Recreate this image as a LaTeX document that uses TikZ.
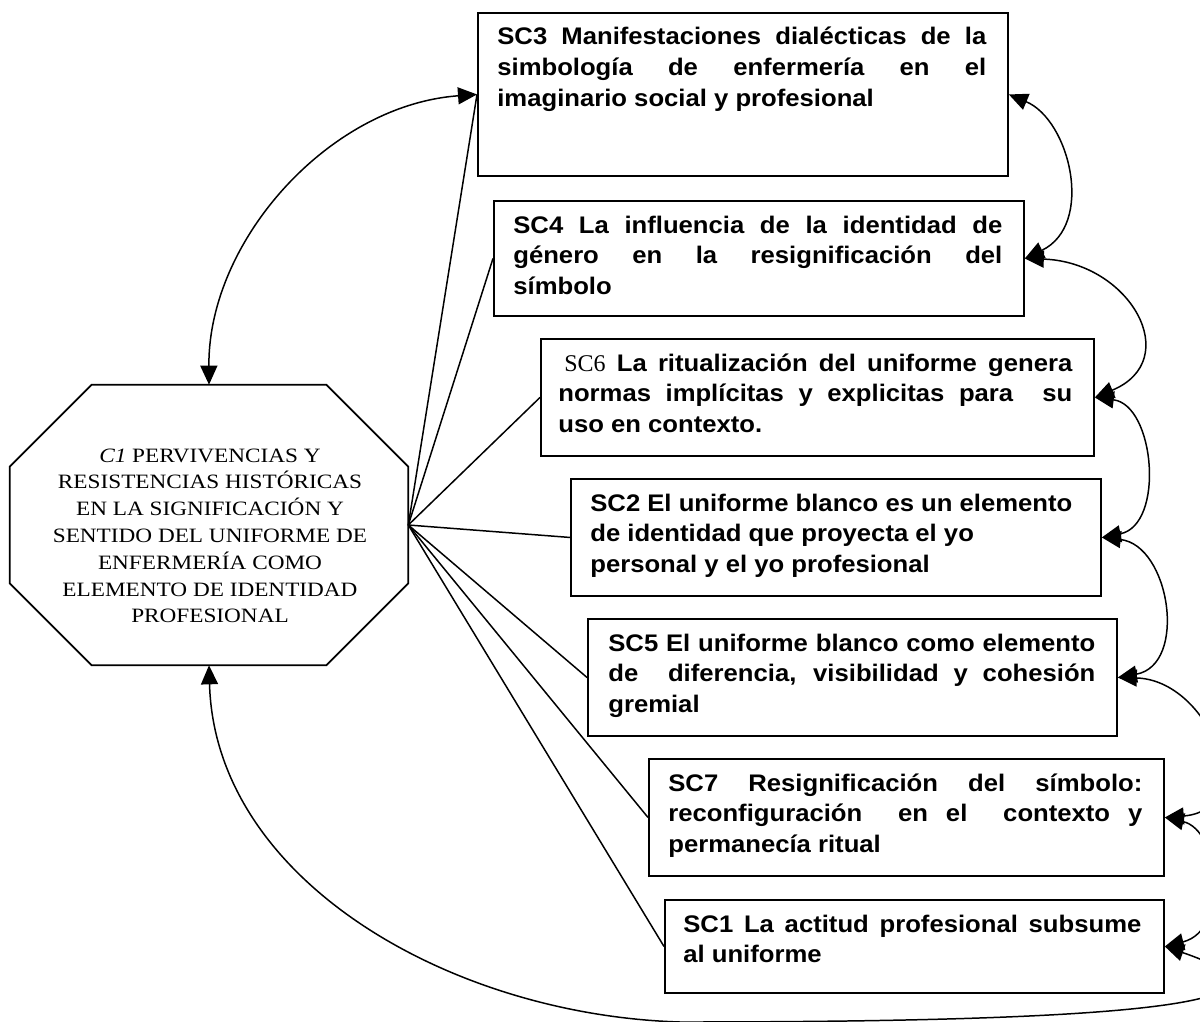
\documentclass[tikz,border=0pt]{standalone}
\usepackage{fontspec}
\setmainfont{Liberation Serif}[FakeStretch=1.14]
\setsansfont{Liberation Sans}[FakeStretch=1.07]
\newfontfamily\plainserif{Liberation Serif}
\usetikzlibrary{arrows.meta,calc}
% one drawing unit = 0.02cm
\newdimen\pxu
\pxu=0.02cm
% a justified line of a given width (in drawing units)
\newcommand\jl[2]{\makebox[#1\pxu][s]{#2}}

\begin{document}
\begin{tikzpicture}[x=0.02cm, y=-0.02cm,
  box/.style={draw, line width=1.1pt, anchor=north west, inner sep=0pt},
  boxtext/.style={anchor=north west, inner sep=0pt, align=left,
    font=\sffamily\bfseries\fontsize{13.65}{17.6}\selectfont},
  octtext/.style={anchor=north, inner sep=0pt, align=center,
    font=\rmfamily\fontsize{11.6}{15.25}\selectfont},
  link/.style={line width=0.85pt},
  both/.style={link, {Triangle[length=0.38cm,width=0.34cm]}-{Triangle[length=0.38cm,width=0.34cm]}}]

\useasboundingbox (0,0) rectangle (1200,1021);
\fill[white] (0,0) rectangle (1200,1021);
\clip (0,0) rectangle (1200,1021);

% central category: irregular octagon
\node[draw=none, minimum width=7.96cm, minimum height=5.6cm, inner sep=0pt] (c1) at (209,525) {};
\draw[line width=1pt]
  ($(c1.north west)+(82,0)$) -- ($(c1.north east)+(-82,0)$) -- ($(c1.north east)+(0,82)$)
  -- ($(c1.south east)+(0,-82)$) -- ($(c1.south east)+(-82,0)$) -- ($(c1.south west)+(82,0)$)
  -- ($(c1.south west)+(0,-82)$) -- ($(c1.north west)+(0,82)$) -- cycle;
\node[octtext] (c1t) at (210,443) {\strut{\itshape C1} PERVIVENCIAS Y\\
  RESISTENCIAS HISTÓRICAS\\
  EN LA SIGNIFICACIÓN Y\\
  SENTIDO DEL UNIFORME DE\\
  ENFERMERÍA COMO\\
  ELEMENTO DE IDENTIDAD\\
  PROFESIONAL};

% subcategory boxes
\node[box, minimum width=10.6cm,  minimum height=3.26cm] (sc3) at (477,12) {};
\node[box, minimum width=10.6cm,  minimum height=2.3cm]  (sc4) at (493,200) {};
\node[box, minimum width=11.06cm, minimum height=2.34cm] (sc6) at (540,338) {};
\node[box, minimum width=10.6cm,  minimum height=2.34cm] (sc2) at (570,478) {};
\node[box, minimum width=10.58cm, minimum height=2.34cm] (sc5) at (587,618) {};
\node[box, minimum width=10.3cm,  minimum height=2.34cm] (sc7) at (648,758) {};
\node[box, minimum width=9.98cm,  minimum height=1.86cm] (sc1) at (664,899) {};

\node[boxtext] (sc3t) at ([shift={(20,11)}]sc3.north west) {%
  \strut\jl{489}{SC3 Manifestaciones dialécticas de la}\\
  \jl{489}{simbología de enfermería en el}\\
  imaginario social y profesional};
\node[boxtext] (sc4t) at ([shift={(20,11)}]sc4.north west) {%
  \strut\jl{489}{SC4 La influencia de la identidad de}\\
  \jl{489}{género en la resignificación del}\\
  símbolo};
\node[boxtext] (sc6t) at ([shift={(18,11)}]sc6.north west) {%
  \strut\jl{514}{\hspace{0.25em}{\plainserif\mdseries SC6} La ritualización del uniforme genera}\\
  \jl{514}{normas implícitas y explicitas para\ \ su}\\
  uso en contexto.};
\node[boxtext] (sc2t) at ([shift={(20,11)}]sc2.north west) {%
  \strut SC2 El uniforme blanco es un elemento\\
  de identidad que proyecta el yo\\
  personal y el yo profesional};
\node[boxtext] (sc5t) at ([shift={(21,11)}]sc5.north west) {%
  \strut\jl{487}{SC5 El uniforme blanco como elemento}\\
  \jl{487}{de\ \ diferencia, visibilidad y cohesión}\\
  gremial};
\node[boxtext] (sc7t) at ([shift={(20,11)}]sc7.north west) {%
  \strut\jl{474}{SC7 Resignificación del símbolo:}\\
  \jl{474}{reconfiguración\ \ en el\ \ contexto y}\\
  permanecía ritual};
\node[boxtext] (sc1t) at ([shift={(19,11)}]sc1.north west) {%
  \strut\jl{458}{SC1 La actitud profesional subsume}\\
  al uniforme};

% fan of plain links from the central category
\foreach \s in {sc3,sc4,sc6,sc2,sc5,sc7,sc1}
  \draw[link] (c1.east) -- (\s.west);

% double-headed relations
\draw[both] (c1.north) .. controls (208,240) and (330,105) .. (sc3.west);
\draw[both] (sc3.east) .. controls (1070,120) and (1095,225) .. (sc4.east);
\draw[both] (sc4.east) .. controls (1130,262) and (1185,360) .. (sc6.east);
\draw[both] (sc6.east) .. controls (1155,405) and (1165,525) .. (sc2.east);
\draw[both] (sc2.east) .. controls (1170,545) and (1188,665) .. (sc5.east);
\draw[both] (sc5.east) .. controls (1210,680) and (1260,810) .. (sc7.east);
\draw[both] (sc7.east) .. controls (1220,830) and (1230,930) .. (sc1.east);
\draw[both] (c1.south) .. controls (215,880) and (450,1015) .. (680,1022)
  .. controls (1050,1022) and (1350,1010) .. (sc1.east);
\end{tikzpicture}
\end{document}
